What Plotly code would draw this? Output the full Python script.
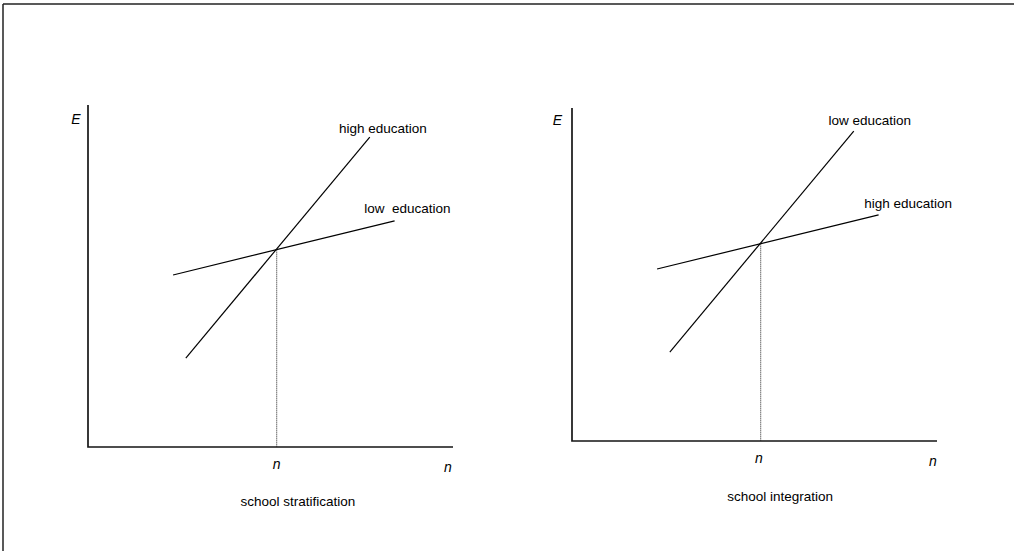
import plotly.graph_objects as go

W, H = 1014, 551

# Stylised data (same shape in both panels; labels swapped)
steep_x = [2.68, 7.72]
steep_y = [2.60, 9.06]
flat_x = [2.33, 8.40]
flat_y = [5.03, 6.61]
cross_x = 5.17
cross_y = 5.77
axis_len_x = [10, 10]
axis_len_y = [10, 9.74]

panels = [
    {"title": "school stratification", "steep": "high education", "flat": "low  education",
     "xa": "x", "ya": "y"},
    {"title": "school integration", "steep": "low education", "flat": "high education",
     "xa": "x2", "ya": "y2"},
]

# label positions (data units) per panel
steep_lab = [(8.08, 9.27), (8.16, 9.33)]
flat_lab = [(8.75, 6.93), (9.21, 6.90)]
e_lab = [(-0.33, 9.55), (-0.40, 9.35)]
n_mid = [(5.17, -0.53), (5.12, -0.53)]
n_end = [(9.86, -0.64), (9.89, -0.64)]
title_pos = [(5.75, -1.64), (5.70, -1.67)]

FONT = "Liberation Sans, Arial, sans-serif"

fig = go.Figure()
line_style = dict(color="black", width=1.2)
for i, p in enumerate(panels):
    xa, ya = p["xa"], p["ya"]
    # axes drawn as data lines
    fig.add_trace(go.Scatter(x=[0, 0, axis_len_x[i]], y=[axis_len_y[i], 0, 0], mode="lines",
                             line=dict(color="#151515", width=1.7),
                             xaxis=xa, yaxis=ya, showlegend=False, hoverinfo="skip"))
    fig.add_trace(go.Scatter(x=steep_x, y=steep_y, mode="lines", line=line_style,
                             xaxis=xa, yaxis=ya, showlegend=False, hoverinfo="skip"))
    fig.add_trace(go.Scatter(x=flat_x, y=flat_y, mode="lines", line=line_style,
                             xaxis=xa, yaxis=ya, showlegend=False, hoverinfo="skip"))
    fig.add_trace(go.Scatter(x=[cross_x, cross_x], y=[cross_y, 0], mode="lines",
                             line=dict(color="#222", width=1, dash="1px,1px"),
                             xaxis=xa, yaxis=ya, showlegend=False, hoverinfo="skip"))
    lab_x = [steep_lab[i][0], flat_lab[i][0]]
    lab_y = [steep_lab[i][1], flat_lab[i][1]]
    lab_t = [p["steep"], p["flat"].replace("  ", "\u00a0 ")]
    fig.add_trace(go.Scatter(x=lab_x, y=lab_y, mode="text", text=lab_t,
                             textfont=dict(family=FONT, size=13.5, color="black"),
                             textposition="middle center",
                             xaxis=xa, yaxis=ya, showlegend=False, hoverinfo="skip"))
    it_x = [e_lab[i][0], n_mid[i][0], n_end[i][0]]
    it_y = [e_lab[i][1], n_mid[i][1], n_end[i][1]]
    fig.add_trace(go.Scatter(x=it_x, y=it_y, mode="text", text=["<i>E</i>", "<i>n</i>", "<i>n</i>"],
                             textfont=dict(family=FONT, size=14, color="black"),
                             textposition="middle center",
                             xaxis=xa, yaxis=ya, showlegend=False, hoverinfo="skip"))
    fig.add_trace(go.Scatter(x=[title_pos[i][0]], y=[title_pos[i][1]], mode="text", text=[p["title"]],
                             textfont=dict(family=FONT, size=13.5, color="black"),
                             textposition="middle center",
                             xaxis=xa, yaxis=ya, showlegend=False, hoverinfo="skip"))


def px_x(v):
    return v / W


def px_y(v):
    return 1 - v / H


XR = [-1.0, 11.0]
YR = [-2.2, 10.5]
SX, SY = 36.5, 34.2  # pixels per data unit
origins = [(88, 447), (572, 441)]


def xdom(ox):
    return [px_x(ox + XR[0] * SX), px_x(ox + XR[1] * SX)]


def ydom(oy):
    return [px_y(oy - YR[0] * SY), px_y(oy - YR[1] * SY)]


axis_common = dict(showgrid=False, zeroline=False, showticklabels=False, ticks="",
                   showline=False, fixedrange=True)

fig.update_layout(
    width=W, height=H,
    margin=dict(l=0, r=0, t=0, b=0),
    paper_bgcolor="white", plot_bgcolor="rgba(0,0,0,0)",
    xaxis=dict(domain=xdom(origins[0][0]), range=XR, anchor="y", **axis_common),
    yaxis=dict(domain=ydom(origins[0][1]), range=YR, anchor="x", **axis_common),
    xaxis2=dict(domain=xdom(origins[1][0]), range=XR, anchor="y2", **axis_common),
    yaxis2=dict(domain=ydom(origins[1][1]), range=YR, anchor="x2", **axis_common),
    shapes=[
        dict(type="line", xref="paper", yref="paper", x0=px_x(3), x1=1.0, y0=px_y(4), y1=px_y(4),
             line=dict(color="#222", width=1.5)),
        dict(type="line", xref="paper", yref="paper", x0=px_x(3), x1=px_x(3), y0=0, y1=px_y(4),
             line=dict(color="#222", width=1.5)),
    ],
)

fig.write_html(
    "out.html",
    config={"displayModeBar": False},
    post_script="document.body.style.margin='0';document.body.style.overflow='hidden';",
)
